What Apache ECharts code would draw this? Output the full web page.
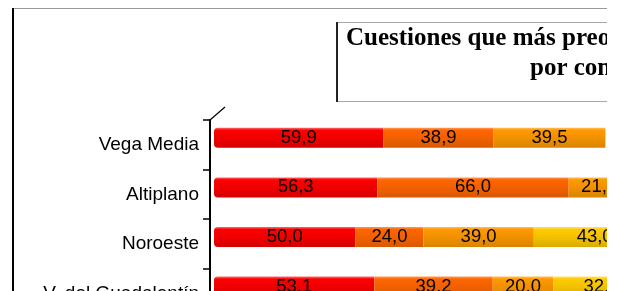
<!DOCTYPE html>
<html>
<head>
<meta charset="utf-8">
<script src="https://cdn.jsdelivr.net/npm/echarts@6/dist/echarts.min.js"></script>
<style>
  html, body { margin: 0; padding: 0; background: #fff; }
  #clip { width: 607px; height: 291px; overflow: hidden; position: relative; }
  #chart { width: 1400px; height: 400px; }
</style>
</head>
<body>
<div id="clip"><div id="chart"></div></div>
<script>
// comarcas (filas) y valores por cuestión (%)
const categories = ['Vega Media', 'Altiplano', 'Noroeste', 'V. del Guadalentín']
const serie1 = [59.9, 56.3, 50.0, 53.1]
const serie2 = [38.9, 66.0, 24.0, 39.2]
const serie3 = [39.5, 21.0, 39.0, 20.0]
const serie4 = [null, null, 43.0, 32.0]
const seriesNames = ['Cuestión 1', 'Cuestión 2', 'Cuestión 3', 'Cuestión 4']
const titleLines = ['Cuestiones que más preocupan a los ciudadanos', 'por comarcas']

// layout
const axisLeft = 210
const axisTop = 120
const rowH = 49.6
const barLeft = 214
const barShiftUp = 7
const barAreaW = 1000
// cada fila está normalizada (100% apilado), escala px por unidad de cada fila
const pxPerUnit = [2.83, 2.90, 2.83, 3.02]

const palette = [
  ['#ff6a6a', '#ff0000', '#ee0000', '#d40000'],
  ['#ff9a55', '#ff6600', '#f06000', '#d85800'],
  ['#ffbe55', '#ff9900', '#f09000', '#d88400'],
  ['#ffe070', '#ffcc00', '#f0c000', '#d8ac00'],
]

function grad(c) {
  return new echarts.graphic.LinearGradient(0, 0, 0, 1, [
    { offset: 0, color: c[0] },
    { offset: 0.12, color: c[1] },
    { offset: 0.55, color: c[2] },
    { offset: 1, color: c[3] },
  ])
}

const fmt = p => (p.value == null ? '' : p.value.toFixed(1).replace('.', ','))

const chart = echarts.init(document.getElementById('chart'))

const grids = [{ left: axisLeft, top: axisTop, width: barAreaW, height: rowH * categories.length }]
const xAxes = [{ type: 'value', gridIndex: 0, show: false }]
const yAxes = [{
  type: 'category',
  gridIndex: 0,
  inverse: true,
  data: categories,
  axisLine: { show: true, lineStyle: { color: '#000', width: 2 } },
  axisTick: { show: true, length: 7, lineStyle: { color: '#000', width: 1.5 } },
  axisLabel: { color: '#000', fontSize: 19, fontFamily: 'Liberation Sans, Arial, sans-serif', margin: 11 },
}]
const series = []
const allSeries = [serie1, serie2, serie3, serie4]

categories.forEach((cat, i) => {
  const g = i + 1
  grids.push({ left: barLeft, top: axisTop - barShiftUp + i * rowH, width: barAreaW, height: rowH })
  xAxes.push({ type: 'value', gridIndex: g, min: 0, max: barAreaW / pxPerUnit[i], show: false })
  yAxes.push({ type: 'category', gridIndex: g, data: [cat], show: false })
  allSeries.forEach((vals, k) => {
    series.push({
      name: seriesNames[k],
      type: 'bar',
      xAxisIndex: g,
      yAxisIndex: g,
      stack: 'row' + i,
      barWidth: 20,
      data: [vals[i]],
      itemStyle: {
        color: grad(palette[k]),
        borderRadius: k === 0 ? [4, 0, 0, 4] : 0,
      },
      label: {
        show: true,
        position: 'inside',
        color: '#000',
        fontSize: 18.5,
        fontFamily: 'Liberation Sans, Arial, sans-serif',
        formatter: fmt,
      },
      silent: true,
    })
  })
})

const titleFont = 'bold 25px "Liberation Serif", "Times New Roman", serif'

const option = {
  animation: false,
  grid: grids,
  xAxis: xAxes,
  yAxis: yAxes,
  series,
  graphic: [
    // marco exterior
    { type: 'line', shape: { x1: 12, y1: 8.5, x2: 1400, y2: 8.5 }, style: { stroke: '#9a9a9a', lineWidth: 1 } },
    { type: 'line', shape: { x1: 13, y1: 8, x2: 13, y2: 400 }, style: { stroke: '#000', lineWidth: 2 } },
    // caja del título
    { type: 'rect', shape: { x: 336.5, y: 22.5, width: 760, height: 79 }, style: { fill: '#fff', stroke: '#a8a8a8', lineWidth: 1 } },
    { type: 'line', shape: { x1: 337, y1: 22, x2: 337, y2: 102 }, style: { stroke: '#222', lineWidth: 2 } },
    { type: 'text', x: 346, y: 39, style: { text: titleLines[0], font: titleFont, fill: '#000', verticalAlign: 'middle' } },
    { type: 'text', x: 530, y: 69, style: { text: titleLines[1], font: titleFont, fill: '#000', verticalAlign: 'middle' } },
    // esquina 3D del eje
    { type: 'line', shape: { x1: axisLeft, y1: axisTop, x2: axisLeft + 15, y2: axisTop - 13 }, style: { stroke: '#000', lineWidth: 1.2 } },
  ],
}

chart.setOption(option)
</script>
</body>
</html>
